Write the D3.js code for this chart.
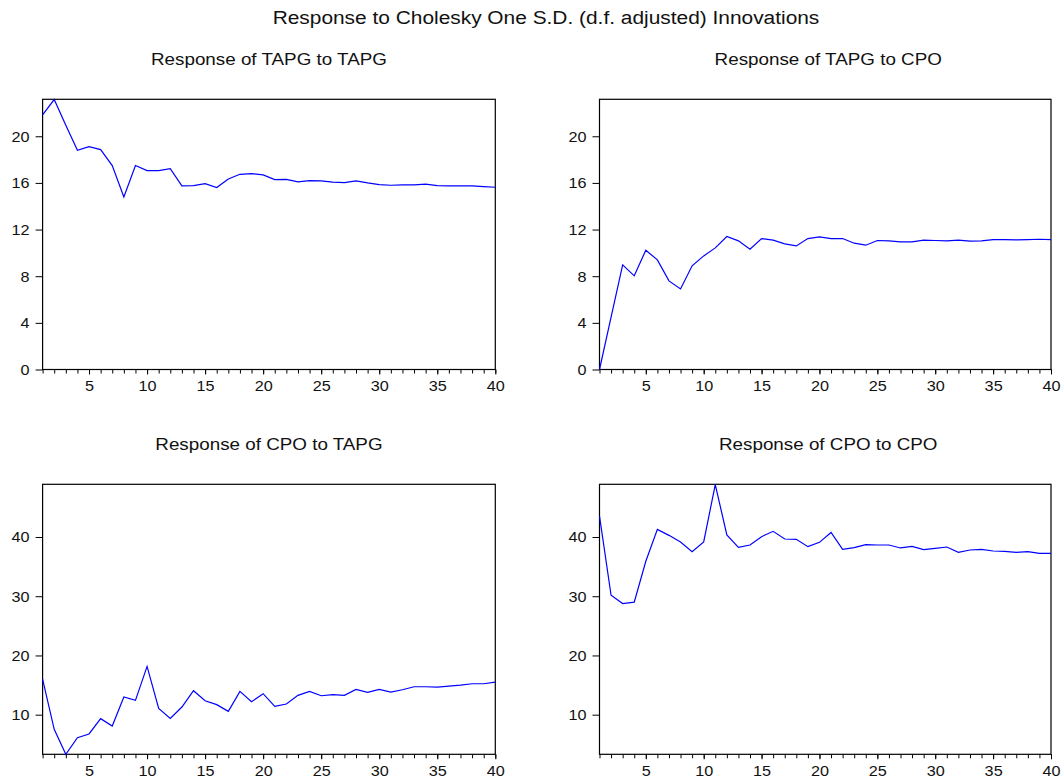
<!DOCTYPE html>
<html>
<head>
<meta charset="utf-8">
<script src="https://cdn.jsdelivr.net/npm/d3@7"></script>
<style>
  html, body { margin: 0; padding: 0; background: #fff; }
  svg { display: block; font-family: "Liberation Sans", Arial, sans-serif; }
</style>
</head>
<body>
<svg id="chart" width="1063" height="780"></svg>
<script>
const periods = d3.range(1, 41);

const tapgToTapg = [21.83, 23.15, 20.94, 18.80, 19.11, 18.86, 17.49, 14.80, 17.49, 17.06,
  17.06, 17.23, 15.74, 15.77, 15.94, 15.60, 16.34, 16.74, 16.80, 16.69,
  16.29, 16.31, 16.09, 16.20, 16.17, 16.06, 16.03, 16.17, 16.00, 15.86,
  15.80, 15.83, 15.83, 15.89, 15.77, 15.74, 15.74, 15.74, 15.69, 15.63];

const tapgToCpo = [0.00, 4.50, 8.97, 8.03, 10.23, 9.40, 7.60, 6.91, 8.89, 9.74,
  10.43, 11.40, 11.03, 10.31, 11.23, 11.09, 10.77, 10.60, 11.23, 11.37,
  11.23, 11.23, 10.83, 10.66, 11.06, 11.03, 10.94, 10.94, 11.09, 11.06,
  11.03, 11.09, 11.00, 11.03, 11.14, 11.14, 11.11, 11.14, 11.17, 11.14];

const cpoToTapg = [16.00, 7.53, 3.31, 6.12, 6.74, 9.33, 8.09, 12.98, 12.42, 18.15,
  11.07, 9.38, 11.29, 14.04, 12.36, 11.69, 10.56, 13.93, 12.19, 13.54,
  11.40, 11.80, 13.26, 13.93, 13.20, 13.37, 13.26, 14.27, 13.76, 14.27,
  13.82, 14.21, 14.72, 14.72, 14.66, 14.83, 15.00, 15.22, 15.22, 15.51];

const cpoToCpo = [43.54, 30.17, 28.76, 28.99, 35.90, 41.29, 40.28, 39.16, 37.53, 39.16,
  48.85, 40.34, 38.26, 38.65, 40.06, 40.96, 39.66, 39.61, 38.37, 39.10,
  40.76, 37.92, 38.20, 38.71, 38.65, 38.65, 38.15, 38.43, 37.87, 38.09,
  38.31, 37.42, 37.81, 37.92, 37.64, 37.58, 37.42, 37.53, 37.25, 37.25];

const mainTitle = "Response to Cholesky One S.D. (d.f. adjusted) Innovations";
const panelTitles = ["Response of TAPG to TAPG", "Response of TAPG to CPO",
                     "Response of CPO to TAPG", "Response of CPO to CPO"];
const xTickValues = [5, 10, 15, 20, 25, 30, 35, 40];
const yTicksTop = [0, 4, 8, 12, 16, 20];
const yTicksBottom = [10, 20, 30, 40];
const yDomainTop = [0, 23.17];
const yDomainBottom = [3.31, 48.9];

const panelSeries = [tapgToTapg, tapgToCpo, cpoToTapg, cpoToCpo];

const svg = d3.select("#chart");

const FONT = "'Liberation Sans', Arial, sans-serif";

// stretch a text element horizontally by factor around its anchor
function stretch(sel, factor) {
  sel.each(function () {
    const w = this.getComputedTextLength();
    d3.select(this).attr("textLength", w * factor).attr("lengthAdjust", "spacingAndGlyphs");
  });
}

svg.append("text")
  .attr("x", 546).attr("y", 24)
  .attr("text-anchor", "middle")
  .attr("font-size", 18)
  .attr("fill", "#111")
  .text(mainTitle)
  .call(stretch, 1.16);

const cols = [[42.6, 495.3], [599.5, 1051]];
const rows = [[99.3, 369.5], [484.3, 754.3]];

panelSeries.forEach((series, i) => {
  const c = cols[i % 2], r = rows[Math.floor(i / 2)];
  const top = i < 2;
  const x = d3.scaleLinear().domain([1, 40]).range(c);
  const y = d3.scaleLinear().domain(top ? yDomainTop : yDomainBottom).range([r[1], r[0]]);
  const g = svg.append("g");

  // subtitle
  g.append("text")
    .attr("x", (c[0] + c[1]) / 2 + (i % 2 ? 3 : 0)).attr("y", r[0] - 34.5)
    .attr("text-anchor", "middle")
    .attr("font-size", 16.5)
    .attr("fill", "#111")
    .text(panelTitles[i])
    .call(stretch, 1.14);

  // frame
  g.append("rect")
    .attr("x", c[0]).attr("y", r[0])
    .attr("width", c[1] - c[0]).attr("height", r[1] - r[0])
    .attr("fill", "none").attr("stroke", "#000").attr("stroke-width", 1.2);

  // y axis
  const yAxis = d3.axisLeft(y).tickValues(top ? yTicksTop : yTicksBottom)
    .tickSize(7).tickPadding(6).tickFormat(d3.format("d"));
  const ya = g.append("g").attr("transform", `translate(${c[0]},0)`).call(yAxis);
  ya.select(".domain").remove();
  ya.attr("font-family", FONT).attr("font-size", 15);
  ya.selectAll("line").attr("stroke", "#000");
  ya.selectAll("text").attr("font-size", 15).attr("fill", "#111").call(stretch, 1.08);

  // x axis minor ticks
  const xMinor = d3.axisBottom(x).tickValues(periods).tickSize(4).tickFormat("");
  const xm = g.append("g").attr("transform", `translate(0,${r[1]})`).call(xMinor);
  xm.select(".domain").remove();
  xm.selectAll("line").attr("stroke", "#000");

  const xAxis = d3.axisBottom(x).tickValues(xTickValues).tickSize(5).tickPadding(6)
    .tickFormat(d3.format("d"));
  const xa = g.append("g").attr("transform", `translate(0,${r[1]})`).call(xAxis);
  xa.select(".domain").remove();
  xa.attr("font-family", FONT).attr("font-size", 15);
  xa.selectAll("line").attr("stroke", "#000");
  xa.selectAll("text").attr("font-size", 15).attr("fill", "#111").call(stretch, 1.08);

  // line
  const line = d3.line().x((d, k) => x(periods[k])).y(d => y(d));
  g.append("path")
    .datum(series)
    .attr("d", line)
    .attr("fill", "none")
    .attr("stroke", "#0000ff")
    .attr("stroke-width", 1.2);
});
</script>
</body>
</html>
